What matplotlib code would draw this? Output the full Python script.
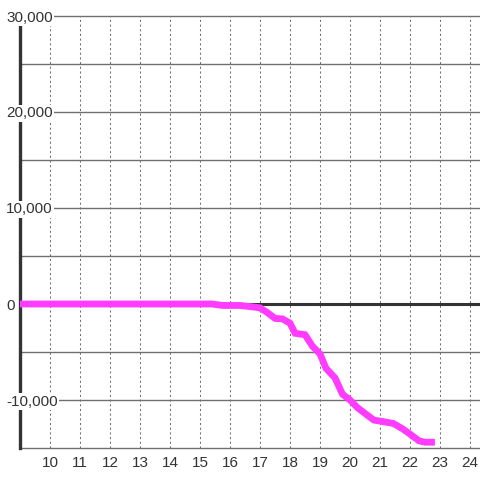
import matplotlib
matplotlib.use("Agg")
import matplotlib.pyplot as plt

plt.rcParams['font.family'] = ['Liberation Sans', 'DejaVu Sans']

# Data (hour of day, value)
hours = [9.0, 15.4, 15.75, 16.33, 16.75, 17.0, 17.25, 17.5, 17.75, 18.0,
         18.17, 18.5, 18.75, 19.0, 19.2, 19.5, 19.75, 20.0, 20.25, 20.5,
         20.8, 21.1, 21.45, 21.75, 22.0, 22.3, 22.5, 22.83]
values = [0, 0, -150, -150, -300, -400, -900, -1500, -1550, -2000,
          -3050, -3200, -4400, -5200, -6700, -7700, -9400, -10000, -10800, -11400,
          -12100, -12250, -12450, -13000, -13550, -14250, -14400, -14400]

x_ticks = list(range(10, 25))
y_ticks = [-10000, 0, 10000, 20000, 30000]
y_grid = [-15000, -10000, -5000, 5000, 10000, 15000, 20000, 25000, 30000]

fig = plt.figure(figsize=(4.8, 4.8), dpi=100)
ax = fig.add_axes([20/480, 32/480, 460/480, 432/480])
ax.set_xlim(9.0, 9.0 + 460/30)
ax.set_ylim(-15000, 30000)

for s in ax.spines.values():
    s.set_visible(False)

grid_c = '#707070'
for g in y_grid:
    ax.axhline(g, color=grid_c, lw=1.0, zorder=1, clip_on=False)
for xt in x_ticks:
    ax.axvline(xt, color=grid_c, lw=0.75, linestyle=(0, (2, 2.5)), zorder=1, clip_on=False)

ax.axhline(0, color='#333333', lw=2.2, zorder=2)
ax.axvline(9.0, color='#333333', lw=2.4, zorder=2, clip_on=False)

ax.plot(hours, values, color='#ff3cff', lw=4.9, solid_joinstyle='miter',
        solid_capstyle='butt', zorder=3)

ax.set_xticks(x_ticks)
ax.set_xticklabels([str(t) for t in x_ticks])
ax.set_yticks(y_ticks)
ax.set_yticklabels([f"{t:,}" for t in y_ticks])
ax.tick_params(axis='both', length=0, labelcolor='#333333')
ax.tick_params(axis='x', pad=6, labelsize=11)
ax.tick_params(axis='y', pad=10, labelsize=11)
for lab in ax.get_yticklabels():
    lab.set_horizontalalignment('left')
    lab.set_bbox(dict(facecolor='white', edgecolor='none', pad=1.0))
ax.yaxis.set_zorder(5)

fig.savefig('out.png', dpi=100, facecolor='white')
